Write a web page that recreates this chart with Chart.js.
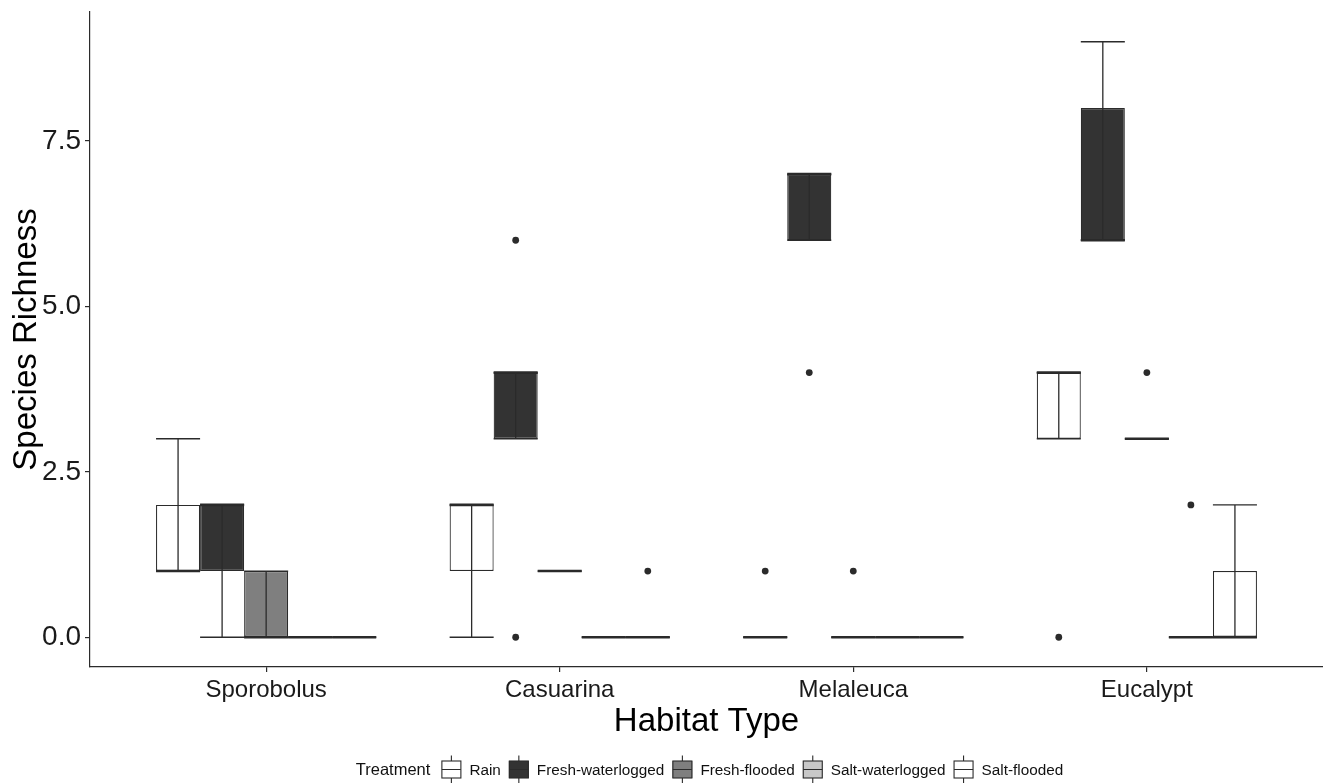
<!DOCTYPE html>
<html>
<head>
<meta charset="utf-8">
<title>Species Richness by Habitat Type</title>
<script src="https://cdn.jsdelivr.net/npm/chart.js@4.4.1/dist/chart.umd.min.js"></script>
<style>
  html, body { margin: 0; padding: 0; background: #ffffff; }
  canvas { display: block; }
</style>
</head>
<body>
<canvas id="chart" width="1323" height="783"></canvas>
<script>
// Categories and groups
const habitats = ['Sporobolus', 'Casuarina', 'Melaleuca', 'Eucalypt'];
const treatments = ['Rain', 'Fresh-waterlogged', 'Fresh-flooded', 'Salt-waterlogged', 'Salt-flooded'];
const legendTitle = 'Treatment';
const yTickValues = [0, 2.5, 5, 7.5];

// Box summaries, one entry per habitat: whisker low, Q1, median, Q3, whisker high, outliers
const rainLow     = [1, 0, 0, 3];
const rainQ1      = [1, 1, 0, 3];
const rainMedian  = [1, 2, 0, 4];
const rainQ3      = [2, 2, 0, 4];
const rainHigh    = [3, 2, 0, 4];
const rainOutliers = [[], [], [1], [0]];

const freshWaterloggedLow     = [0, 3, 6, 6];
const freshWaterloggedQ1      = [1, 3, 6, 6];
const freshWaterloggedMedian  = [2, 4, 7, 6];
const freshWaterloggedQ3      = [2, 4, 7, 8];
const freshWaterloggedHigh    = [2, 4, 7, 9];
const freshWaterloggedOutliers = [[], [6, 0], [4], []];

const freshFloodedLow     = [0, 1, 0, 3];
const freshFloodedQ1      = [0, 1, 0, 3];
const freshFloodedMedian  = [0, 1, 0, 3];
const freshFloodedQ3      = [1, 1, 0, 3];
const freshFloodedHigh    = [1, 1, 0, 3];
const freshFloodedOutliers = [[], [], [1], [4]];

const saltWaterloggedLow     = [0, 0, 0, 0];
const saltWaterloggedQ1      = [0, 0, 0, 0];
const saltWaterloggedMedian  = [0, 0, 0, 0];
const saltWaterloggedQ3      = [0, 0, 0, 0];
const saltWaterloggedHigh    = [0, 0, 0, 0];
const saltWaterloggedOutliers = [[], [], [], [2]];

const saltFloodedLow     = [0, 0, 0, 0];
const saltFloodedQ1      = [0, 0, 0, 0];
const saltFloodedMedian  = [0, 0, 0, 0];
const saltFloodedQ3      = [0, 0, 0, 1];
const saltFloodedHigh    = [0, 0, 0, 2];
const saltFloodedOutliers = [[], [1], [], []];

const summaries = [
  { lo: rainLow, q1: rainQ1, med: rainMedian, q3: rainQ3, hi: rainHigh, out: rainOutliers },
  { lo: freshWaterloggedLow, q1: freshWaterloggedQ1, med: freshWaterloggedMedian, q3: freshWaterloggedQ3, hi: freshWaterloggedHigh, out: freshWaterloggedOutliers },
  { lo: freshFloodedLow, q1: freshFloodedQ1, med: freshFloodedMedian, q3: freshFloodedQ3, hi: freshFloodedHigh, out: freshFloodedOutliers },
  { lo: saltWaterloggedLow, q1: saltWaterloggedQ1, med: saltWaterloggedMedian, q3: saltWaterloggedQ3, hi: saltWaterloggedHigh, out: saltWaterloggedOutliers },
  { lo: saltFloodedLow, q1: saltFloodedQ1, med: saltFloodedMedian, q3: saltFloodedQ3, hi: saltFloodedHigh, out: saltFloodedOutliers }
];

// Styling
const boxFills = ['#ffffff', '#333333', '#7f7f7f', '#c8c8c8', '#ffffff'];
const ink = '#2b2b2b';
const FONT = '"Liberation Sans", Arial, Helvetica, sans-serif';

// Boxes are floating bars spanning Q1..Q3, dodged by treatment
const datasets = treatments.map((name, k) => ({
  label: name,
  data: habitats.map((h, i) => ({ x: i + 1, y: [summaries[k].q1[i], summaries[k].q3[i]] })),
  backgroundColor: boxFills[k],
  borderColor: ink,
  borderWidth: 1.2,
  borderSkipped: false,
  categoryPercentage: 0.75,
  barPercentage: 1.0
}));

// Medians, error-bar whiskers and outlier points on top of the boxes
const boxDetails = {
  id: 'boxDetails',
  afterDatasetsDraw(chart) {
    const ctx = chart.ctx;
    const yScale = chart.scales.y;
    ctx.save();
    ctx.strokeStyle = ink;
    ctx.fillStyle = ink;
    ctx.lineCap = 'butt';
    summaries.forEach((s, k) => {
      const meta = chart.getDatasetMeta(k);
      meta.data.forEach((bar, i) => {
        const { x, width } = bar.getProps(['x', 'width'], true);
        const x0 = x - width / 2, x1 = x + width / 2;
        // median
        const ym = yScale.getPixelForValue(s.med[i]);
        ctx.lineWidth = 2.6;
        ctx.beginPath(); ctx.moveTo(x0, ym); ctx.lineTo(x1, ym); ctx.stroke();
        // whisker line and caps
        const yl = yScale.getPixelForValue(s.lo[i]);
        const yh = yScale.getPixelForValue(s.hi[i]);
        ctx.lineWidth = 1.3;
        ctx.beginPath();
        ctx.moveTo(x, yl); ctx.lineTo(x, yh);
        ctx.moveTo(x0, yl); ctx.lineTo(x1, yl);
        ctx.moveTo(x0, yh); ctx.lineTo(x1, yh);
        ctx.stroke();
        // outliers
        s.out[i].forEach(v => {
          ctx.beginPath();
          ctx.arc(x, yScale.getPixelForValue(v), 3.4, 0, Math.PI * 2);
          ctx.fill();
        });
      });
    });
    ctx.restore();
  }
};

// Bottom legend with box-shaped keys
const treatmentLegend = {
  id: 'treatmentLegend',
  afterDraw(chart) {
    const ctx = chart.ctx;
    const area = chart.chartArea;
    const cy = chart.height - 13.5;
    const keyW = 20;
    const titleFont = '16.5px ' + FONT;
    const itemFont = '15.3px ' + FONT;
    ctx.save();
    ctx.font = titleFont;
    const titleW = ctx.measureText(legendTitle).width;
    ctx.font = itemFont;
    const widths = treatments.map(t => ctx.measureText(t).width);
    const gapTitle = 11, gapKey = 8, gapItem = 8;
    let total = titleW + gapTitle;
    widths.forEach((w, k) => { total += keyW + gapKey + w + (k < widths.length - 1 ? gapItem : 0); });
    let x = (area.left + area.right) / 2 - total / 2 + 3;
    ctx.textBaseline = 'middle';
    ctx.fillStyle = '#111111';
    ctx.font = titleFont;
    ctx.fillText(legendTitle, x, cy + 1);
    x += titleW + gapTitle;
    treatments.forEach((t, k) => {
      const bx = x, by = cy - 8.5, bh = 17;
      ctx.fillStyle = boxFills[k];
      ctx.fillRect(bx, by, keyW, bh);
      ctx.strokeStyle = ink;
      ctx.lineWidth = 1.1;
      ctx.strokeRect(bx + 0.5, by, keyW - 1, bh);
      ctx.beginPath();
      ctx.moveTo(bx + 0.5, cy); ctx.lineTo(bx + keyW - 0.5, cy);
      ctx.moveTo(bx + keyW / 2, by); ctx.lineTo(bx + keyW / 2, by - 5.5);
      ctx.moveTo(bx + keyW / 2, by + bh); ctx.lineTo(bx + keyW / 2, by + bh + 5.5);
      ctx.stroke();
      x += keyW + gapKey;
      ctx.fillStyle = '#111111';
      ctx.font = itemFont;
      ctx.fillText(t, x, cy + 1);
      x += widths[k] + gapItem;
    });
    ctx.restore();
  }
};

new Chart(document.getElementById('chart'), {
  type: 'bar',
  data: { datasets },
  plugins: [boxDetails, treatmentLegend],
  options: {
    responsive: false,
    devicePixelRatio: 1,
    animation: false,
    layout: { padding: { top: 12, right: 0, bottom: 33, left: 0 } },
    plugins: { legend: { display: false }, tooltip: { enabled: false } },
    scales: {
      x: {
        type: 'linear',
        offset: false,
        min: 0.4,
        max: 4.6,
        afterBuildTicks(scale) { scale.ticks = habitats.map((h, i) => ({ value: i + 1 })); },
        afterFit(scale) { scale.height = 83; scale.paddingLeft = 0; scale.paddingRight = 0; },
        ticks: {
          autoSkip: false,
          maxRotation: 0,
          padding: 4,
          color: '#1a1a1a',
          font: { family: FONT, size: 24 },
          callback: (v) => habitats[Math.round(v) - 1]
        },
        grid: { display: true, offset: false, drawOnChartArea: false, drawTicks: true, tickLength: 5, color: ink, lineWidth: 1.2 },
        border: { display: true, color: ink, width: 1.2 },
        title: { display: true, text: 'Habitat Type', color: '#000000', font: { family: FONT, size: 33 }, padding: { top: 0, bottom: 8 } }
      },
      y: {
        type: 'linear',
        min: -0.45,
        max: 9.45,
        afterBuildTicks(scale) { scale.ticks = yTickValues.map(v => ({ value: v })); },
        afterFit(scale) { scale.width = 90; scale.paddingTop = 0; scale.paddingBottom = 0; },
        ticks: {
          padding: 4,
          color: '#1a1a1a',
          font: { family: FONT, size: 28 },
          callback: (v) => Number(v).toFixed(1)
        },
        grid: { display: true, drawOnChartArea: false, drawTicks: true, tickLength: 5, color: ink, lineWidth: 1.2 },
        border: { display: true, color: ink, width: 1.2 },
        title: { display: true, text: 'Species Richness', color: '#000000', font: { family: FONT, size: 33 }, padding: { top: 7, bottom: 0 } }
      }
    }
  }
});
</script>
</body>
</html>
